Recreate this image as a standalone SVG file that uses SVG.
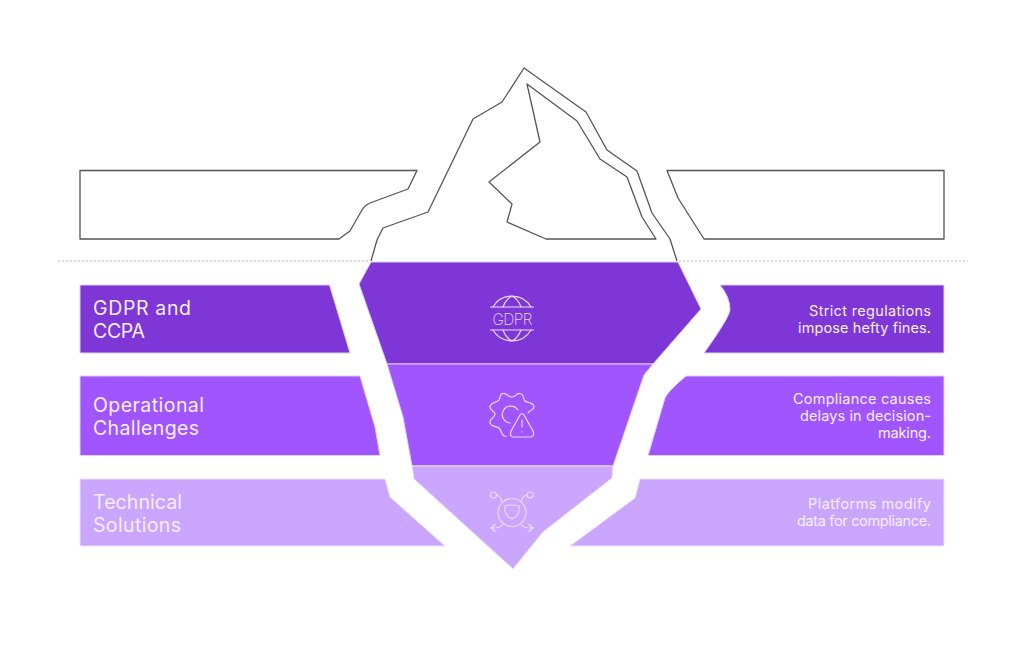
<svg xmlns="http://www.w3.org/2000/svg" width="1024" height="660" viewBox="0 0 1024 660">
<style>
.ol{fill:#fff;stroke:#555;stroke-width:1.300;stroke-linejoin:round}
.dark{fill:#7e36d6;stroke:#dcd0ee;stroke-width:1}
.mid{fill:#a155ff;stroke:#e0d0f8;stroke-width:1}
.light{fill:#cba6ff;stroke:#ecdfff;stroke-width:1}
.wl{fill:none;stroke:#d4d4d4;stroke-width:1.500;stroke-dasharray:2.500 1.500}
.t{font-family:"Inter","Liberation Sans",sans-serif;fill:#f6efff}
.h{font-size:19.500px;font-weight:400}
.s{font-size:14.500px;text-anchor:end;font-weight:400}
.ic{fill:none;stroke:#e9dbff;stroke-width:1.200;stroke-linecap:round;stroke-linejoin:round}
</style>
<rect width="1024" height="660" fill="#fff"/>
<g id="waterline">
<path class="wl" d="M58,261H370"/>
<path class="wl" d="M679,261H968"/>
</g>
<g id="iceberg-top">
<path class="ol" d="M80,170.500H417L408,189L370,203Q365,205 362,210L350,231L339,239H80Z"/>
<path class="ol" d="M667,170.500H944V239H704L678,198Z"/>
<path class="ol" d="M371,261L377,240L383,228L428,212L473,119L502,102L524,68L586,112L607,150L637,171L652,213L670,239L677,261"/>
<path class="ol" d="M527,84L577,121L600,159L627,177L642,217L656,239H546L507,222L512,204L489,182L540,142Z"/>
</g>
<g id="band-gdpr">
<path class="dark" d="M80,285H329.500L350,353H80Z"/>
<path class="dark" d="M720,285Q730,297 730,310Q729,318 704,353H944V285Z"/>
<path class="dark" d="M371,262H678L701,309L653,364H387L359,284Z"/>
<text class="t h" x="93" y="314.500" textLength="98">GDPR and</text>
<text class="t h" x="93" y="337.500" textLength="52">CCPA</text>
<text class="t s" x="931" y="316" textLength="122">Strict regulations</text>
<text class="t s" x="931" y="333" textLength="133">impose hefty fines.</text>
<g id="icon-gdpr">
<path class="ic" d="M490.500,307H533.500M490.500,330H533.500"/>
<path class="ic" d="M493,307A22,22 0 0 1 531,307M493,330A22,22 0 0 0 531,330"/>
<path class="ic" d="M503,307Q506,299 512,296Q518,299 521,307M503,330Q506,338 512,341Q518,338 521,330"/>
<text x="512.500" y="325" text-anchor="middle" font-family="Inter,'Liberation Sans',sans-serif" font-size="15.500" font-weight="200" textLength="40" fill="#e9dbff">GDPR</text>
</g>
</g>
<g id="band-operational">
<path class="mid" d="M80,376H360L375,427L380,455.500H80Z"/>
<path class="mid" d="M686,376L678,383Q668,392 665,398L648,455.500H944V376Z"/>
<path class="mid" d="M387,364H653L644,375L613,466H412L403,417Z"/>
<text class="t h" x="93" y="411.500" textLength="111">Operational</text>
<text class="t h" x="93" y="434.500" textLength="106">Challenges</text>
<text class="t s" x="931" y="404" textLength="138">Compliance causes</text>
<text class="t s" x="931" y="421" textLength="131">delays in decision-</text>
<text class="t s" x="931" y="438" textLength="53">making.</text>
<g id="icon-operational">
<path class="ic" d="M506,436.500C501,436.500 502,431 499,428C496,426 490,427 490,422C490,418 495,418 495,414C495,411 490,411 490,407C490,402 497,403 499,400C501,397 499,394 503,393.500C507,393 508,397 512,397C516,397 516,393 520,393.500C524,394 523,399 525,401C527,403 534,402 534,407C534,410 530,410 528,413"/>
<path class="ic" d="M518,410A8.500,8.500 0 1 0 510,423"/>
<path class="ic" d="M520,415Q522,412 524,415L533,431Q535,437 530,437H514Q509,437 511,431Z"/>
<path class="ic" d="M522,420V427M522,431.500V432"/>
</g>
</g>
<g id="band-technical">
<path class="light" d="M80,479H385L390,497L445,546H80Z"/>
<path class="light" d="M640,479L635,498L570,546H944V479Z"/>
<path class="light" d="M412,466H613L612,478L543,532L513,569L414,479Z"/>
<text class="t h" x="93" y="508.500" textLength="89">Technical</text>
<text class="t h" x="93" y="531.500" textLength="88">Solutions</text>
<text class="t s" x="931" y="509" textLength="123">Platforms modify</text>
<text class="t s" x="931" y="526" textLength="134">data for compliance.</text>
<g id="icon-technical">
<circle class="ic" cx="512" cy="512.500" r="14"/>
<path class="ic" d="M505,506Q512,504 519,506V511Q518,516 512,519Q506,516 505,511Z"/>
<circle class="ic" cx="493.500" cy="495" r="3"/>
<circle class="ic" cx="530" cy="495" r="3"/>
<path class="ic" d="M496.500,495Q500,495 502,502M527,495Q523,495 521,502"/>
<path class="ic" d="M503,524Q500,528 495,528H491M495,524.500L491,528L495,531.500"/>
<path class="ic" d="M521,524Q524,528 529,528H533M529,524.500L533,528L529,531.500"/>
</g>
</g>
</svg>
